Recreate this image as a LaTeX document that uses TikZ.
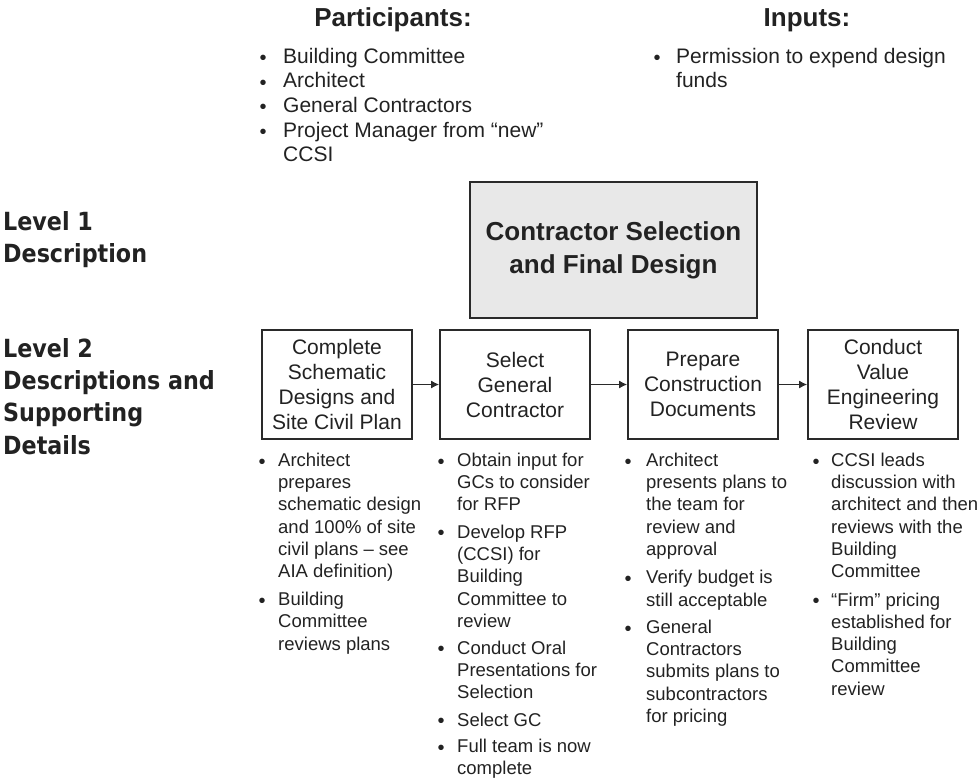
\documentclass[tikz,border=0pt]{standalone}
\usepackage{fontspec}
\setmainfont{Liberation Sans}
\newfontfamily\lvlfont[FakeStretch=0.89]{DejaVu Sans}
\usetikzlibrary{arrows.meta}
\definecolor{txt}{HTML}{222222}
\definecolor{edge}{HTML}{2A2A2A}
\definecolor{fillg}{HTML}{E8E8E8}
\newcommand\bul[1][-1.8pt]{\raisebox{#1}{\fontsize{20}{20}\selectfont\textbullet}}
\begin{document}
\begin{tikzpicture}[x=1pt,y=-1pt,
  every node/.style={text=txt},
  head/.style={font=\fontsize{26}{30}\selectfont\bfseries, inner sep=0pt, anchor=base},
  toplist/.style={font=\fontsize{21}{24.6}\selectfont, inner sep=0pt, anchor=north west},
  botlist/.style={font=\fontsize{18.5}{22.3}\selectfont, inner sep=0pt, anchor=north west},
  lvl/.style={font=\lvlfont\bfseries\fontsize{25}{32.3}\selectfont, inner sep=0pt, anchor=north west},
  stepbox/.style={draw=edge, line width=1.6pt, minimum width=150pt, minimum height=109pt,
    align=center, font=\fontsize{21}{25}\selectfont, inner sep=0pt},
  mainbox/.style={draw=edge, fill=fillg, line width=1.6pt, minimum width=287pt, minimum height=136pt,
    align=center, font=\fontsize{26}{33}\selectfont\bfseries, inner sep=0pt},
  flow/.style={-{Latex[length=8pt,width=8pt]}, line width=1.5pt, draw=edge}]
\useasboundingbox (0,0) rectangle (979,780);

% headings
\node[head] (hp) at (393,26) {Participants:};
\node[head] (hi) at (807,26) {Inputs:};

% top lists
\node[toplist] (lp) at (259.5,45.8) {\begin{tabular}{@{}l@{\hspace{16.5pt}}l@{}}
\bul[-1.2pt] & Building Committee\\
\bul[-1.2pt] & Architect\\
\bul[-1.2pt] & General Contractors\\
\bul[-1.2pt] & Project Manager from “new”\\
 & CCSI
\end{tabular}};
\node[toplist] (li) at (653.5,45.8) {\begin{tabular}{@{}l@{\hspace{15.5pt}}l@{}}
\bul[-1.2pt] & Permission to expend design\\
 & funds
\end{tabular}};

% level labels
\node[lvl] (l1) at (3,207.4) {\begin{tabular}{@{}l@{}}Level 1\\ Description\end{tabular}};
\node[lvl] (l2) at (3,334.4) {\begin{tabular}{@{}l@{}}Level 2\\ Descriptions and\\ Supporting\\ Details\end{tabular}};

% main box
\node[mainbox] (main) at (613.5,250) {Contractor Selection\\ and Final Design};

% step boxes
\node[stepbox] (b1) at (337,384.5) {Complete\\ Schematic\\ Designs and\\ Site Civil Plan};
\node[stepbox] (b2) at (515,384.5) {Select\\ General\\ Contractor};
\node[stepbox] (b3) at (703,384.5) {Prepare\\ Construction\\ Documents};
\node[stepbox] (b4) at (883,384.5) {Conduct\\ Value\\ Engineering\\ Review};

\draw[flow] (b1) -- (b2);
\draw[flow] (b2) -- (b3);
\draw[flow] (b3) -- (b4);

% detail lists
\node[botlist] (d1) at (258.5,450.4) {\begin{tabular}{@{}l@{\hspace{12.5pt}}l@{}}
\bul & Architect\\
 & prepares\\
 & schematic design\\
 & and 100\% of site\\
 & civil plans – see\\
 & AIA definition)\\[5.5pt]
\bul & Building\\
 & Committee\\
 & reviews plans
\end{tabular}};
\node[botlist] (d2) at (437.5,450.4) {\begin{tabular}{@{}l@{\hspace{12.5pt}}l@{}}
\bul & Obtain input for\\
 & GCs to consider\\
 & for RFP\\[5pt]
\bul & Develop RFP\\
 & (CCSI) for\\
 & Building\\
 & Committee to\\
 & review\\[4.5pt]
\bul & Conduct Oral\\
 & Presentations for\\
 & Selection\\[5pt]
\bul & Select GC\\[4pt]
\bul & Full team is now\\
 & complete
\end{tabular}};
\node[botlist] (d3) at (624.5,450.4) {\begin{tabular}{@{}l@{\hspace{14.5pt}}l@{}}
\bul & Architect\\
 & presents plans to\\
 & the team for\\
 & review and\\
 & approval\\[6pt]
\bul & Verify budget is\\
 & still acceptable\\[5pt]
\bul & General\\
 & Contractors\\
 & submits plans to\\
 & subcontractors\\
 & for pricing
\end{tabular}};
\node[botlist] (d4) at (812.5,450.4) {\begin{tabular}{@{}l@{\hspace{11.5pt}}l@{}}
\bul & CCSI leads\\
 & discussion with\\
 & architect and then\\
 & reviews with the\\
 & Building\\
 & Committee\\[6pt]
\bul & “Firm” pricing\\
 & established for\\
 & Building\\
 & Committee\\
 & review
\end{tabular}};
\end{tikzpicture}
\end{document}
